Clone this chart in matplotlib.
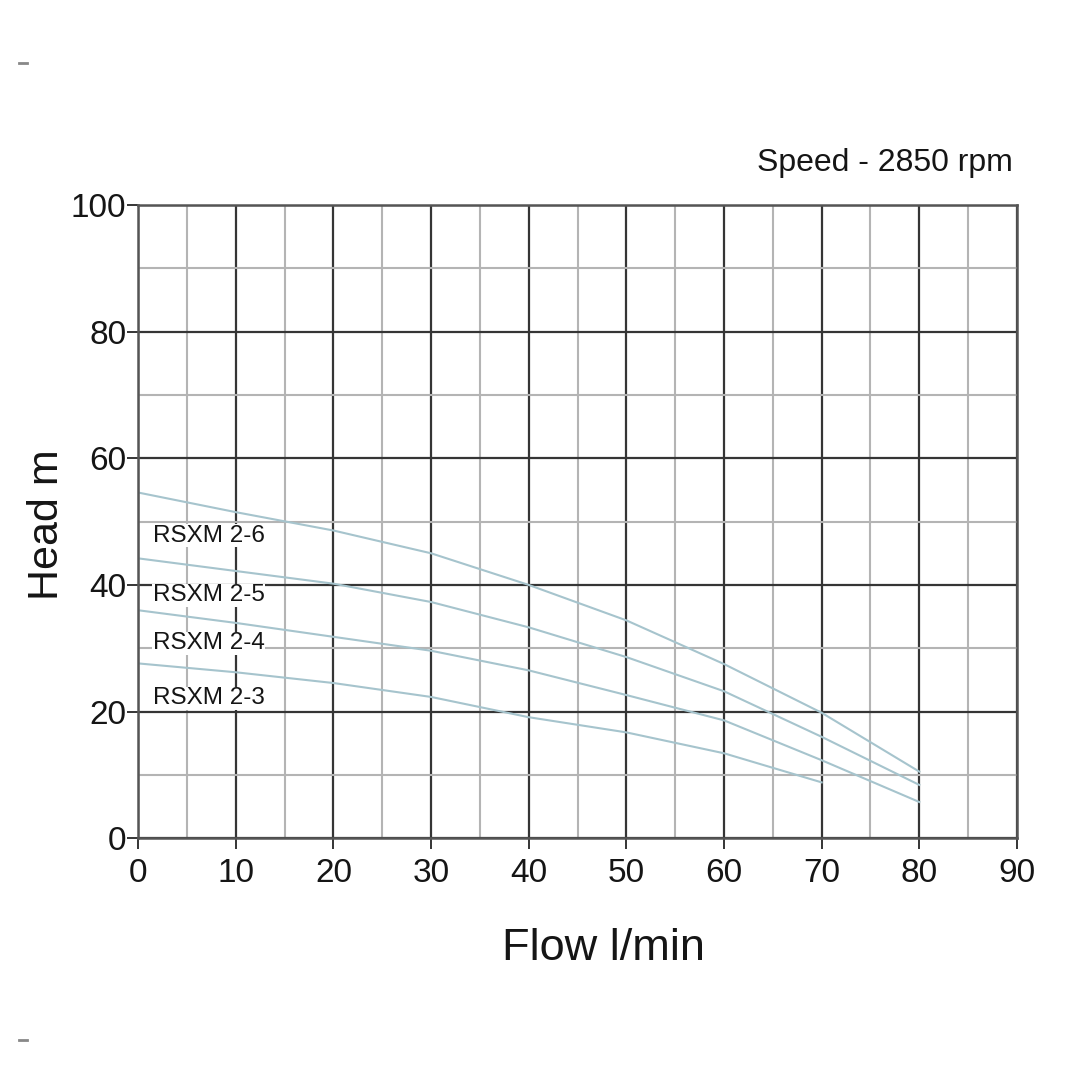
import matplotlib
matplotlib.use('Agg')
import matplotlib.pyplot as plt
from matplotlib.lines import Line2D
from matplotlib.ticker import MultipleLocator

plt.rcParams['font.family'] = ['Liberation Sans', 'DejaVu Sans']

# --- data ---
flow_26 = [0, 10, 20, 30, 40, 50, 60, 70, 80]
head_26 = [54.6, 51.5, 48.6, 45.0, 40.0, 34.4, 27.5, 19.8, 10.5]

flow_25 = [0, 10, 20, 30, 40, 50, 60, 70, 80]
head_25 = [44.2, 42.2, 40.2, 37.3, 33.3, 28.6, 23.2, 16.0, 8.4]

flow_24 = [0, 10, 20, 30, 40, 50, 60, 70, 80]
head_24 = [36.0, 34.0, 31.8, 29.6, 26.5, 22.6, 18.6, 12.3, 5.7]

flow_23 = [0, 10, 20, 30, 40, 50, 60, 70]
head_23 = [27.6, 26.2, 24.5, 22.3, 19.1, 16.7, 13.4, 8.8]

labels = ['RSXM 2-6', 'RSXM 2-5', 'RSXM 2-4', 'RSXM 2-3']
label_x = [1.5, 1.5, 1.5, 1.5]
label_y = [47.8, 38.4, 30.8, 22.1]

CURVE = '#a6c4cd'
DARK = '#353535'
LIGHT = '#b4b4b4'
TXT = '#151515'

fig = plt.figure(figsize=(10.79, 10.8), dpi=100)
ax = fig.add_axes([0.128, 0.224, 0.8145, 0.586])

ax.set_xlim(0, 90)
ax.set_ylim(0, 100)
ax.xaxis.set_major_locator(MultipleLocator(10))
ax.xaxis.set_minor_locator(MultipleLocator(5))
ax.yaxis.set_major_locator(MultipleLocator(20))
ax.yaxis.set_minor_locator(MultipleLocator(10))

ax.grid(which='minor', color=LIGHT, linewidth=1.5, zorder=0)
ax.grid(which='major', color=DARK, linewidth=1.6, zorder=0)
ax.set_axisbelow(True)

for sp in ax.spines.values():
    sp.set_color('#555555')
    sp.set_linewidth(1.8)

ax.tick_params(which='major', length=8, width=1.4, color=DARK,
               labelsize=24, labelcolor=TXT)
ax.tick_params(axis='x', which='major', pad=6)
ax.tick_params(axis='y', which='major', pad=0.5)
ax.tick_params(which='minor', length=0)

for fx, hy in [(flow_26, head_26), (flow_25, head_25),
               (flow_24, head_24), (flow_23, head_23)]:
    ax.plot(fx, hy, color=CURVE, linewidth=1.5, zorder=2)

for txt, lx, ly in zip(labels, label_x, label_y):
    ax.text(lx, ly, txt, fontsize=17.5, color=TXT, ha='left', va='center',
            bbox=dict(facecolor='white', edgecolor='none', pad=0.3), zorder=3)

ax.set_xlabel('Flow l/min', fontsize=32.5, color=TXT)
ax.xaxis.set_label_coords(0.529, -0.142)
ax.set_ylabel('Head m', fontsize=31, color=TXT)
ax.yaxis.set_label_coords(-0.081, 0.495)

fig.text(0.939, 0.849, 'Speed - 2850 rpm', fontsize=23, color=TXT,
         ha='right', va='center')

# small scan marks at the left edge
fig.add_artist(Line2D([0.018, 0.025], [0.942, 0.942], color='#888888', linewidth=2))
fig.add_artist(Line2D([0.018, 0.025], [0.037, 0.037], color='#888888', linewidth=2))

fig.savefig('out.png', dpi=100, facecolor='white')
